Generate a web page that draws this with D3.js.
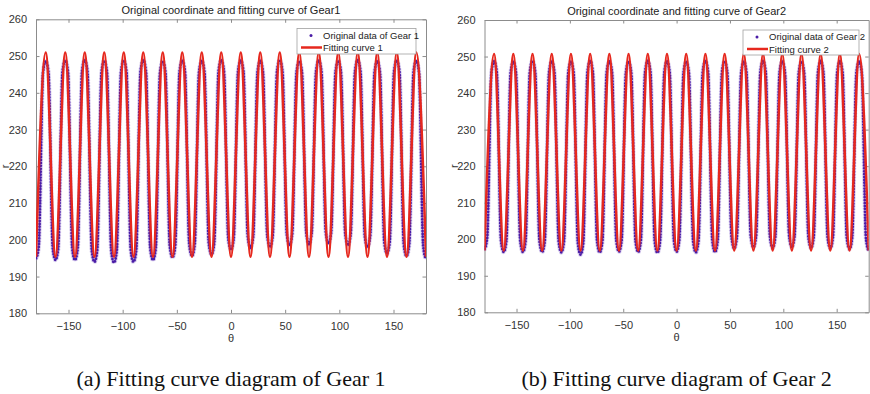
<!DOCTYPE html>
<html>
<head>
<meta charset="utf-8">
<script src="https://cdn.jsdelivr.net/npm/d3@7"></script>
<style>
  body { margin: 0; background: #fff; }
  text { font-family: "Liberation Sans", Arial, sans-serif; }
</style>
</head>
<body>
<div class="board"></div>
<script>
// ticks
var thetaTicks = [-150, -100, -50, 0, 50, 100, 150];
var rTicks = [180, 190, 200, 210, 220, 230, 240, 250, 260];

// tooth positions (deg)
var valleyTheta = [-180, -162, -144, -126, -108, -90, -72, -54, -36, -18, 0, 18, 36, 54, 72, 90, 108, 126, 144, 162, 180];
var peakTheta = [-171, -153, -135, -117, -99, -81, -63, -45, -27, -9, 9, 27, 45, 63, 81, 99, 117, 135, 153, 171];
// the measured points flatten out about 2.5 deg either side of a valley / tip
var shoulderDeg = 2.5;

// Gear 1
var gear1DataValley = [195.0, 194.5, 194.5, 194.0, 193.8, 194.0, 194.5, 195.2, 195.6, 196.0, 197.3, 197.8, 198.0, 198.5, 198.8, 199.0, 198.5, 198.0, 196.3, 195.6, 195.0];
var gear1DataValleyShoulder = [198.0, 197.5, 197.5, 197.0, 196.8, 197.0, 197.5, 198.2, 198.6, 199.0, 200.3, 200.8, 201.0, 201.5, 201.8, 202.0, 201.5, 201.0, 199.3, 198.6, 198.0];
var gear1DataPeak = [248.6, 248.8, 248.9, 248.7, 248.8, 248.9, 248.6, 248.8, 248.7, 248.9, 248.8, 248.7, 248.9, 248.6, 248.8, 248.7, 248.9, 248.6, 248.8, 248.7];
var gear1DataPeakShoulder = [245.6, 245.8, 245.9, 245.7, 245.8, 245.9, 245.6, 245.8, 245.7, 245.9, 245.8, 245.7, 245.9, 245.6, 245.8, 245.7, 245.9, 245.6, 245.8, 245.7];
var gear1FitValley = [195.4, 195.4, 195.4, 195.4, 195.4, 195.4, 195.4, 195.4, 195.4, 195.4, 195.4, 195.4, 195.4, 195.4, 195.4, 195.4, 195.4, 195.4, 195.4, 195.4, 195.4];
var gear1FitPeak = [251.0, 251.0, 251.0, 251.0, 251.0, 251.0, 251.0, 251.0, 251.0, 251.0, 251.0, 251.0, 251.0, 251.0, 251.0, 251.0, 251.0, 251.0, 251.0, 251.0];

// Gear 2
var gear2DataValley = [197.3, 196.5, 196.5, 196.5, 196.4, 195.8, 196.4, 196.6, 196.5, 196.3, 196.6, 196.4, 196.5, 197.5, 197.8, 197.6, 197.8, 197.6, 197.5, 197.3, 197.0];
var gear2DataValleyShoulder = [200.3, 199.5, 199.5, 199.5, 199.4, 198.8, 199.4, 199.6, 199.5, 199.3, 199.6, 199.4, 199.5, 200.5, 200.8, 200.6, 200.8, 200.6, 200.5, 200.3, 200.0];
var gear2DataPeak = [248.7, 248.6, 248.8, 248.7, 248.6, 248.8, 248.7, 248.6, 248.8, 248.7, 248.6, 248.8, 248.7, 248.6, 248.8, 248.7, 248.6, 248.8, 248.7, 248.6];
var gear2DataPeakShoulder = [245.7, 245.6, 245.8, 245.7, 245.6, 245.8, 245.7, 245.6, 245.8, 245.7, 245.6, 245.8, 245.7, 245.6, 245.8, 245.7, 245.6, 245.8, 245.7, 245.6];
var gear2FitValley = [196.9, 196.9, 196.9, 196.9, 196.9, 196.9, 196.9, 196.9, 196.9, 196.9, 196.9, 196.9, 196.9, 196.9, 196.9, 196.9, 196.9, 196.9, 196.9, 196.9, 196.9];
var gear2FitPeak = [250.7, 250.7, 250.7, 250.7, 250.7, 250.7, 250.7, 250.7, 250.7, 250.7, 250.7, 250.7, 250.7, 250.7, 250.7, 250.7, 250.7, 250.7, 250.7, 250.7];

var settings = {
  w: 870,
  h: 394,
  red: '#e6281e',
  purple: '#4a1ca6',
  halo: '#a68fd6',
  axis: '#8c8c8c',
  label: '#333'
};

var board = d3.select('.board')
  .append('svg')
  .attr('width', settings.w)
  .attr('height', settings.h)
  .style('display', 'block');

// valleys and tips merged into one sorted series (shoulders optional)
var toothPoints = function(valleys, peaks, vShoulder, pShoulder) {
  var pts = [];
  valleyTheta.forEach(function(t, i) {
    if (vShoulder) pts.push([t - shoulderDeg, vShoulder[i]]);
    pts.push([t, valleys[i]]);
    if (vShoulder) pts.push([t + shoulderDeg, vShoulder[i]]);
    if (i < peakTheta.length) {
      if (pShoulder) pts.push([peakTheta[i] - shoulderDeg, pShoulder[i]]);
      pts.push([peakTheta[i], peaks[i]]);
      if (pShoulder) pts.push([peakTheta[i] + shoulderDeg, pShoulder[i]]);
    }
  });
  return pts;
};

var panels = [
  {
    id: 'g1', left: 36, right: 426, top: 19.3, bottom: 313.3,
    title: 'Original coordinate and fitting curve of Gear1',
    caption: '(a) Fitting curve diagram of Gear 1',
    dataName: 'Original data of Gear 1', fitName: 'Fitting curve 1',
    data: toothPoints(gear1DataValley, gear1DataPeak, gear1DataValleyShoulder, gear1DataPeakShoulder),
    fit: toothPoints(gear1FitValley, gear1FitPeak),
    legend: {x: 297, y: 28.5, w: 119, h: 25.5}
  },
  {
    id: 'g2', left: 484.5, right: 868.7, top: 20, bottom: 312.3,
    title: 'Original coordinate and fitting curve of Gear2',
    caption: '(b) Fitting curve diagram of Gear 2',
    dataName: 'Original data of Gear 2', fitName: 'Fitting curve 2',
    data: toothPoints(gear2DataValley, gear2DataPeak, gear2DataValleyShoulder, gear2DataPeakShoulder),
    fit: toothPoints(gear2FitValley, gear2FitPeak),
    legend: {x: 743, y: 30, w: 116, h: 25}
  }
];

panels.forEach(function(p) {
  var x = d3.scaleLinear().domain([-180, 180]).range([p.left, p.right]);
  var y = d3.scaleLinear().domain([180, 260]).range([p.bottom, p.top]);
  var g = board.append('g');

  g.append('clipPath').attr('id', 'clip-' + p.id)
    .append('rect')
    .attr('x', p.left).attr('y', p.top)
    .attr('width', p.right - p.left).attr('height', p.bottom - p.top);

  // axes (ticks inward, box on)
  var ax = [
    {axis: d3.axisBottom(x).tickValues(thetaTicks), tr: [0, p.bottom], labels: true},
    {axis: d3.axisTop(x).tickValues(thetaTicks).tickFormat(''), tr: [0, p.top]},
    {axis: d3.axisLeft(y).tickValues(rTicks), tr: [p.left, 0], labels: true},
    {axis: d3.axisRight(y).tickValues(rTicks).tickFormat(''), tr: [p.right, 0]}
  ];
  ax.forEach(function(a) {
    var s = g.append('g')
      .attr('transform', 'translate(' + a.tr[0] + ',' + a.tr[1] + ')')
      .call(a.axis.tickSizeInner(-3.5).tickSizeOuter(0).tickPadding(a.labels ? 9 : 0));
    s.select('.domain').attr('stroke', settings.axis).attr('stroke-width', 1);
    s.selectAll('.tick line').attr('stroke', settings.axis);
    s.selectAll('.tick text')
      .attr('fill', settings.label)
      .style('font-size', '11px')
      .style('font-family', '"Liberation Sans", Arial, sans-serif');
  });

  var plot = g.append('g').attr('clip-path', 'url(#clip-' + p.id + ')');

  var line = d3.line()
    .x(function(d) { return x(d[0]); })
    .y(function(d) { return y(d[1]); })
    .curve(d3.curveMonotoneX);

  // original data: soft halo + dotted path
  plot.append('path')
    .datum(p.data)
    .attr('fill', 'none')
    .attr('stroke', settings.halo)
    .attr('stroke-opacity', 0.45)
    .attr('stroke-width', 4.6)
    .attr('stroke-linecap', 'round')
    .attr('stroke-dasharray', '0 2.9')
    .attr('d', line);

  plot.append('path')
    .datum(p.data)
    .attr('fill', 'none')
    .attr('stroke', settings.purple)
    .attr('stroke-width', 2.8)
    .attr('stroke-linecap', 'round')
    .attr('stroke-dasharray', '0 2.9')
    .attr('d', line);

  // fitting curve
  plot.append('path')
    .datum(p.fit)
    .attr('fill', 'none')
    .attr('stroke', settings.red)
    .attr('stroke-width', 2.5)
    .attr('stroke-linejoin', 'round')
    .attr('d', line);

  var cx = (p.left + p.right) / 2;

  g.append('text')
    .attr('x', cx).attr('y', p.top - 5.5)
    .attr('text-anchor', 'middle')
    .style('font-size', '11px')
    .attr('fill', '#222')
    .text(p.title);

  g.append('text')
    .attr('x', cx).attr('y', p.bottom + 29)
    .attr('text-anchor', 'middle')
    .style('font-size', '11px')
    .attr('fill', settings.label)
    .text('θ');

  g.append('text')
    .attr('transform', 'translate(' + (p.left - 27) + ',' + ((p.top + p.bottom) / 2) + ') rotate(-90)')
    .attr('text-anchor', 'middle')
    .style('font-size', '11px')
    .attr('fill', settings.label)
    .text('r');

  g.append('text')
    .attr('x', cx).attr('y', 386)
    .attr('text-anchor', 'middle')
    .style('font-family', '"Liberation Serif", "Times New Roman", serif')
    .style('font-size', '22px')
    .attr('fill', '#111')
    .text(p.caption);

  // legend
  var L = p.legend;
  var lg = g.append('g');
  lg.append('rect')
    .attr('x', L.x).attr('y', L.y).attr('width', L.w).attr('height', L.h)
    .attr('fill', '#fff').attr('stroke', '#a0a0a0').attr('stroke-width', 0.8);
  lg.append('circle')
    .attr('cx', L.x + 14).attr('cy', L.y + 7)
    .attr('r', 1.5).attr('fill', settings.purple);
  lg.append('text')
    .attr('x', L.x + 26).attr('y', L.y + 10)
    .style('font-size', '9.5px').attr('fill', '#222')
    .text(p.dataName);
  lg.append('line')
    .attr('x1', L.x + 4).attr('x2', L.x + 25)
    .attr('y1', L.y + 19).attr('y2', L.y + 19)
    .attr('stroke', settings.red).attr('stroke-width', 2.5);
  lg.append('text')
    .attr('x', L.x + 26).attr('y', L.y + 22.5)
    .style('font-size', '9.5px').attr('fill', '#222')
    .text(p.fitName);
});
</script>
</body>
</html>
